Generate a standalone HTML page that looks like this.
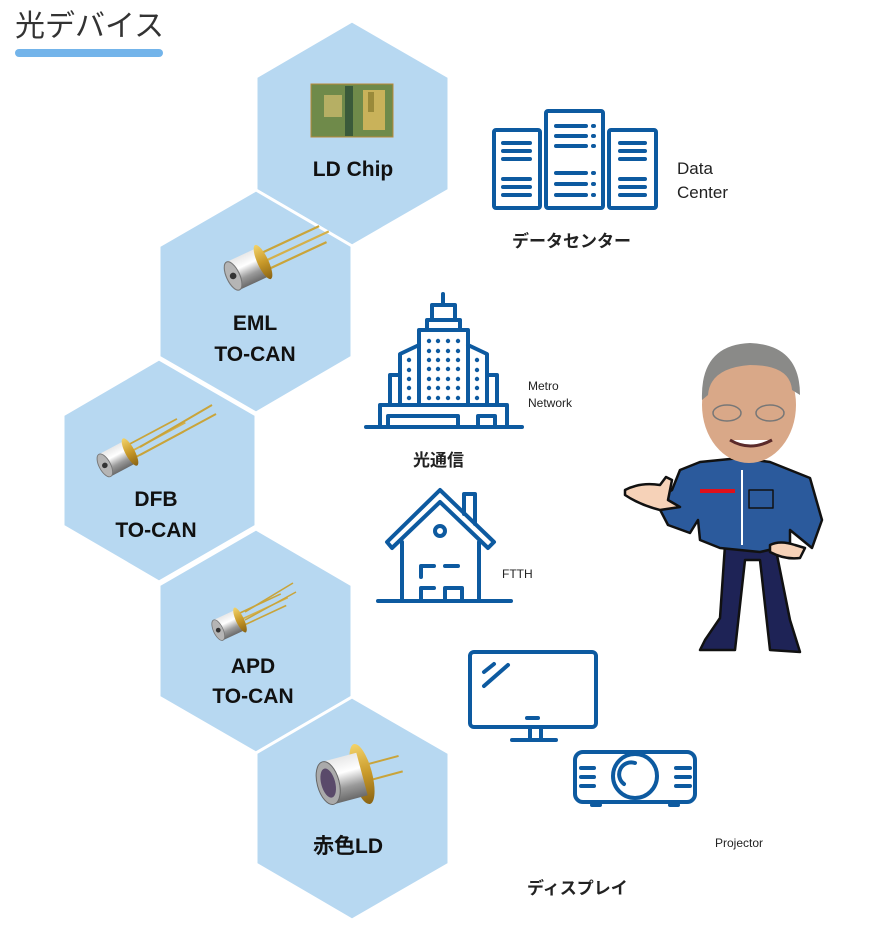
<!DOCTYPE html>
<html><head><meta charset="utf-8"><style>
html,body{margin:0;padding:0;background:#fff;}
svg{display:block;}
text{font-family:"Liberation Sans","Noto Sans CJK JP",sans-serif;}
</style></head><body>
<svg width="884" height="943" viewBox="0 0 884 943" xmlns="http://www.w3.org/2000/svg">
<defs>
<linearGradient id="silver" x1="0" y1="0" x2="0" y2="1">
<stop offset="0" stop-color="#e8e8e8"/><stop offset="0.35" stop-color="#ffffff"/><stop offset="0.7" stop-color="#9a9a9a"/><stop offset="1" stop-color="#6a6a6a"/></linearGradient>
<linearGradient id="gold" x1="0" y1="0" x2="0" y2="1">
<stop offset="0" stop-color="#f3d36a"/><stop offset="0.5" stop-color="#c99a2a"/><stop offset="1" stop-color="#8a6414"/></linearGradient>
<g id="tocan">
<line x1="4" y1="-8" x2="60" y2="-8" stroke="#c9a43a" stroke-width="2"/>
<line x1="4" y1="0" x2="66" y2="0" stroke="#d4b04a" stroke-width="2"/>
<line x1="4" y1="8" x2="60" y2="8" stroke="#c9a43a" stroke-width="2"/>
<rect x="-30" y="-14" width="30" height="28" fill="url(#silver)"/>
<ellipse cx="0" cy="0" rx="5" ry="17" fill="url(#gold)"/>
<ellipse cx="-30" cy="0" rx="6" ry="14" fill="#b5b5b5" stroke="#777" stroke-width="1"/>
<circle cx="-30" cy="0" r="3" fill="#333"/>
</g>
</defs>

<text x="15" y="36" font-size="30" fill="#333">光デバイス</text>
<rect x="15" y="49" width="148" height="8" rx="4" fill="#73b4ea"/>

<g fill="#b7d8f1" stroke="#fff" stroke-width="3">
<polygon points="352,21 449,77 449,190 352,246 256,190 256,77"/>
<polygon points="256,190 352,246 352,357 256,413 159,357 159,246"/>
<polygon points="159,359 256,415 256,526 159,582 63,526 63,415"/>
<polygon points="256,529 352,585 352,697 256,753 159,697 159,585"/>
<polygon points="352,697 449,753 449,864 352,920 256,864 256,753"/>
</g>

<!-- LD chip -->
<rect x="311" y="84" width="82" height="53" fill="#6f8a4a" stroke="#b98a3a" stroke-width="1"/>
<rect x="324" y="95" width="18" height="22" fill="#c8b86a" opacity="0.8"/>
<rect x="345" y="86" width="8" height="50" fill="#3a5a3a"/>
<rect x="363" y="90" width="22" height="40" fill="#c9b25a"/>
<rect x="368" y="92" width="6" height="20" fill="#9a8a3a"/>

<use href="#tocan" transform="translate(263,262) rotate(-25) scale(1.1)"/>
<use href="#tocan" transform="translate(130,452) rotate(-28) scale(0.95,0.9) "/>
<line x1="140" y1="447" x2="212" y2="405" stroke="#c9a43a" stroke-width="2"/>
<line x1="140" y1="455" x2="216" y2="414" stroke="#c9a43a" stroke-width="2"/>
<use href="#tocan" transform="translate(240,620) rotate(-25) scale(0.8)"/>
<line x1="245" y1="612" x2="293" y2="583" stroke="#c9a43a" stroke-width="1.5"/>
<line x1="245" y1="620" x2="296" y2="592" stroke="#c9a43a" stroke-width="1.5"/>
<g transform="translate(362,774) rotate(-15)">
<line x1="8" y1="-8" x2="40" y2="-8" stroke="#c9a43a" stroke-width="2"/>
<line x1="8" y1="8" x2="40" y2="8" stroke="#c9a43a" stroke-width="2"/>
<ellipse cx="0" cy="0" rx="10" ry="31" fill="url(#gold)"/>
<rect x="-35" y="-22" width="35" height="44" fill="url(#silver)"/>
<ellipse cx="-35" cy="0" rx="11" ry="22" fill="#aaa" stroke="#666"/>
<ellipse cx="-35" cy="0" rx="7" ry="15" fill="#5a4a6a"/>
</g>

<g font-weight="bold" font-size="21" fill="#111" text-anchor="middle">
<text x="353" y="176">LD Chip</text>
<text x="255" y="330">EML</text>
<text x="255" y="361">TO-CAN</text>
<text x="156" y="506">DFB</text>
<text x="156" y="537">TO-CAN</text>
<text x="253" y="673">APD</text>
<text x="253" y="703">TO-CAN</text>
<text x="348" y="853">赤色LD</text>
</g>

<g fill="none" stroke="#0d5aa0" stroke-width="4" stroke-linecap="round" stroke-linejoin="round">
<!-- data center -->
<rect x="494" y="130" width="46" height="78" rx="2"/>
<rect x="546" y="111" width="57" height="97" rx="2"/>
<rect x="609" y="130" width="47" height="78" rx="2"/>
<line x1="503" y1="143" x2="530" y2="143"/><line x1="503" y1="151" x2="530" y2="151"/><line x1="503" y1="159" x2="530" y2="159"/>
<line x1="503" y1="179" x2="530" y2="179"/><line x1="503" y1="187" x2="530" y2="187"/><line x1="503" y1="195" x2="530" y2="195"/>
<line x1="556" y1="126" x2="586" y2="126"/><line x1="556" y1="136" x2="586" y2="136"/><line x1="556" y1="146" x2="586" y2="146"/>
<line x1="556" y1="173" x2="586" y2="173"/><line x1="556" y1="184" x2="586" y2="184"/><line x1="556" y1="195" x2="586" y2="195"/>
<line x1="593" y1="126" x2="594" y2="126"/><line x1="593" y1="136" x2="594" y2="136"/><line x1="593" y1="146" x2="594" y2="146"/>
<line x1="593" y1="173" x2="594" y2="173"/><line x1="593" y1="184" x2="594" y2="184"/><line x1="593" y1="195" x2="594" y2="195"/>
<line x1="620" y1="143" x2="645" y2="143"/><line x1="620" y1="151" x2="645" y2="151"/><line x1="620" y1="159" x2="645" y2="159"/>
<line x1="620" y1="179" x2="645" y2="179"/><line x1="620" y1="187" x2="645" y2="187"/><line x1="620" y1="195" x2="645" y2="195"/>
<!-- metro -->
<line x1="443" y1="294" x2="443" y2="303"/>
<path d="M432,320 V305 H455 V320"/>
<path d="M427,330 V320 H460 V330"/>
<path d="M419,405 V330 H468 V405"/>
<path d="M419,345 L400,354 V405"/>
<path d="M468,345 L487,354 V405"/>
<path d="M400,375 H390 V405"/>
<path d="M487,375 H497 V405"/>
<path d="M380,426 V405 H507 V426"/>
<line x1="366" y1="427" x2="522" y2="427"/>
<path d="M388,426 V416 H458 V426"/>
<path d="M478,426 V416 H495 V426"/>
<!-- house -->
<path d="M387,542 L440,490 L494,542 L488,548 L440,502 L392,548 Z"/>
<path d="M464,514 V494 H475 V524"/>
<path d="M402,542 V601 M479,542 V601"/>
<circle cx="440" cy="531" r="5"/>
<path d="M421,577 V566 H434 M445,566 H458 M421,600 V588 H434 M445,601 V588 H462 V601"/>
<line x1="378" y1="601" x2="511" y2="601"/>
<!-- tv -->
<rect x="470" y="652" width="126" height="75" rx="4"/>
<line x1="484" y1="672" x2="494" y2="664"/>
<line x1="484" y1="686" x2="508" y2="665"/>
<line x1="527" y1="718" x2="538" y2="718"/>
<line x1="530" y1="728" x2="530" y2="739"/><line x1="541" y1="728" x2="541" y2="739"/>
<line x1="512" y1="740" x2="556" y2="740"/>
<!-- projector -->
<rect x="575" y="752" width="120" height="50" rx="8"/>
<circle cx="635" cy="776" r="22"/>
<path d="M624,784 A12,12 0 0 1 635,763"/>
<line x1="581" y1="768" x2="594" y2="768"/><line x1="581" y1="777" x2="594" y2="777"/><line x1="581" y1="786" x2="594" y2="786"/>
<line x1="676" y1="768" x2="690" y2="768"/><line x1="676" y1="777" x2="690" y2="777"/><line x1="676" y1="786" x2="690" y2="786"/>
<line x1="592" y1="805" x2="600" y2="805"/><line x1="670" y1="805" x2="678" y2="805"/>
</g>
<g fill="#0d5aa0">
<g id="dots">
<circle cx="429" cy="341" r="2.2"/><circle cx="438" cy="341" r="2.2"/><circle cx="448" cy="341" r="2.2"/><circle cx="458" cy="341" r="2.2"/>
</g>
<use href="#dots" y="10"/><use href="#dots" y="19"/><use href="#dots" y="28"/><use href="#dots" y="38"/><use href="#dots" y="47"/><use href="#dots" y="57"/>
<circle cx="409" cy="360" r="2.2"/><circle cx="409" cy="370" r="2.2"/><circle cx="409" cy="379" r="2.2"/><circle cx="409" cy="388" r="2.2"/><circle cx="409" cy="398" r="2.2"/>
<circle cx="477" cy="360" r="2.2"/><circle cx="477" cy="370" r="2.2"/><circle cx="477" cy="379" r="2.2"/><circle cx="477" cy="388" r="2.2"/><circle cx="477" cy="398" r="2.2"/>
</g>

<g fill="#222">
<text x="677" y="174" font-size="17">Data</text>
<text x="677" y="198" font-size="17">Center</text>
<text x="512" y="247" font-size="17" font-weight="bold">データセンター</text>
<text x="528" y="390" font-size="12">Metro</text>
<text x="528" y="407" font-size="12">Network</text>
<text x="413" y="466" font-size="17" font-weight="bold">光通信</text>
<text x="502" y="578" font-size="12">FTTH</text>
<text x="715" y="847" font-size="12">Projector</text>
<text x="527" y="894" font-size="17" font-weight="bold">ディスプレイ</text>
</g>

<!-- person -->
<g stroke="#111" stroke-width="2.5" stroke-linejoin="round">
<path d="M720,618 L705,640 L700,650 L735,650 L745,560 L760,560 L770,650 L800,652 L790,620 L775,545 L725,545 Z" fill="#1e2356"/>
<path d="M680,470 L700,462 L740,458 L770,462 L810,478 L822,520 L812,548 L790,530 L790,545 L760,552 L720,548 L700,540 L698,520 L690,533 L668,525 L655,500 L672,490 Z" fill="#2b5a9c"/>
<path d="M625,490 Q640,482 660,485 L666,477 L672,480 L668,500 L680,507 L660,510 Q640,505 625,495 Z" fill="#f6d2b8"/>
<path d="M770,545 Q780,540 795,545 L805,548 L800,558 Q785,560 770,552 Z" fill="#f6d2b8"/>
<path d="M742,470 L742,545" fill="none" stroke="#fff" stroke-width="2"/>
<rect x="749" y="490" width="24" height="18" fill="none" stroke-width="1.5"/>
</g>
<rect x="700" y="489" width="35" height="4" fill="#e0101a"/>
<ellipse cx="749" cy="405" rx="47" ry="58" fill="#d9a888"/>
<path d="M702,400 Q700,345 750,343 Q800,345 800,395 L792,390 Q790,365 750,365 Q710,368 708,395 Z" fill="#8a8a88"/>
<path d="M730,440 Q750,452 772,440" stroke="#5a2a2a" stroke-width="3" fill="#fff"/>
<ellipse cx="727" cy="413" rx="14" ry="8" fill="none" stroke="#777" stroke-width="1.5"/>
<ellipse cx="770" cy="413" rx="14" ry="8" fill="none" stroke="#777" stroke-width="1.5"/>
</svg>
</body></html>
